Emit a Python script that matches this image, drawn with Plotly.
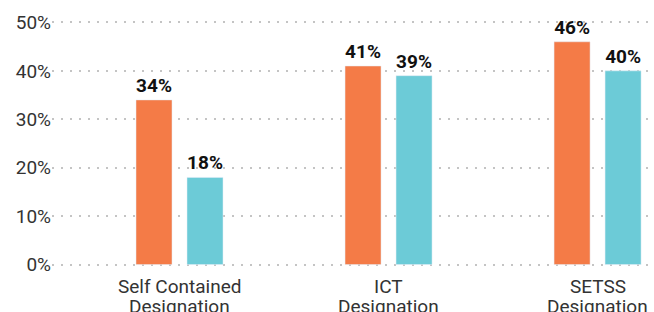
import plotly.graph_objects as go

categories = ["Self Contained", "ICT", "SETSS"]
category_line2 = ["Designation", "Designation", "Designation"]
series_a = [34, 41, 46]
series_b = [18, 39, 40]
labels_a = ["34%", "41%", "46%"]
labels_b = ["18%", "39%", "40%"]
y_ticks = [0, 10, 20, 30, 40, 50]
y_tick_text = ["0%", "10%", "20%", "30%", "40%", "50%"]

orange = "#F47B47"
teal = "#6CCBD7"
label_font = dict(family="Roboto", size=19, color="#111111", weight="bold")

fig = go.Figure()
fig.add_trace(go.Bar(x=categories, y=series_a, text=labels_a, textposition="outside",
                     marker_color=orange, cliponaxis=False, textfont=label_font))
fig.add_trace(go.Bar(x=categories, y=series_b, text=labels_b, textposition="outside",
                     marker_color=teal, cliponaxis=False, textfont=label_font))

# two-line category labels with tight line spacing
for cat, l2 in zip(categories, category_line2):
    fig.add_annotation(x=cat, xref="x", y=0, yref="paper", text=cat, showarrow=False,
                       yanchor="top", yshift=-6,
                       font=dict(family="Roboto", size=19, color="#333333"))
    fig.add_annotation(x=cat, xref="x", y=0, yref="paper", text=l2, showarrow=False,
                       yanchor="top", yshift=-26,
                       font=dict(family="Roboto", size=19, color="#333333"))

fig.update_layout(
    width=654, height=312,
    margin=dict(l=52, r=0, t=20, b=45),
    paper_bgcolor="white", plot_bgcolor="white",
    barmode="group", bargap=0.512, bargroupgap=0.294,
    showlegend=False,
    font=dict(family="Roboto", size=19, color="#333333"),
)
fig.update_xaxes(range=[-0.61, 2.27], showgrid=False, showline=False, ticks="",
                 showticklabels=False, automargin=False)
fig.update_yaxes(range=[-0.5, 50.5], tickvals=y_ticks, ticktext=y_tick_text,
                 showgrid=True, gridcolor="#c4c4c4", gridwidth=2, griddash="2px,7px",
                 zeroline=False, showline=False, ticks="", automargin=False,
                 tickfont=dict(family="Roboto", size=19, color="#333333"))

fig.write_html("out.html", config={"displayModeBar": False},
               post_script="document.body.style.margin='0';document.body.style.padding='0';")
